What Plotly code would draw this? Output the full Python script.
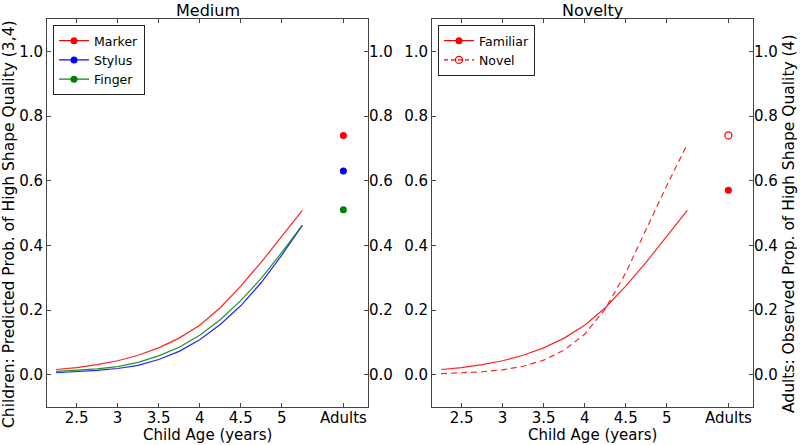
import plotly.graph_objects as go

# ---------------- data ----------------
ages = [2.25, 2.5, 2.75, 3.0, 3.25, 3.5, 3.75, 4.0, 4.25, 4.5, 4.75, 5.0, 5.25]

marker_pred = [0.016, 0.022, 0.031, 0.043, 0.060, 0.083, 0.113, 0.153, 0.207, 0.274, 0.348, 0.428, 0.508]
stylus_pred = [0.006, 0.009, 0.013, 0.019, 0.029, 0.047, 0.072, 0.108, 0.155, 0.213, 0.285, 0.370, 0.462]
finger_pred = [0.010, 0.013, 0.018, 0.025, 0.038, 0.058, 0.085, 0.122, 0.170, 0.229, 0.298, 0.378, 0.462]

familiar_pred = [0.016, 0.022, 0.031, 0.043, 0.060, 0.083, 0.113, 0.153, 0.207, 0.274, 0.348, 0.428, 0.508]
novel_pred = [0.003, 0.005, 0.009, 0.015, 0.026, 0.045, 0.076, 0.125, 0.203, 0.315, 0.450, 0.585, 0.713]

medium_names = ["Marker", "Stylus", "Finger"]
medium_adult = [0.74, 0.63, 0.51]
novelty_names = ["Familiar", "Novel"]
novelty_adult = [0.57, 0.74]

x_tickvals = [2.5, 3.0, 3.5, 4.0, 4.5, 5.0, 5.75]
x_ticktext = ["2.5", "3", "3.5", "4", "4.5", "5", "Adults"]
y_tickvals = [0.0, 0.2, 0.4, 0.6, 0.8, 1.0]
y_ticktext = ["0.0", "0.2", "0.4", "0.6", "0.8", "1.0"]
adults_x = 5.75

# ---------------- style ----------------
RED, BLUE, GREEN = "#ff0000", "#0000ff", "#008000"
FONT = "DejaVu Sans"
SPINE = "#444444"
W, H = 800, 445
ML, MR, MT, MB = 47, 47, 19, 38
PW = W - ML - MR
PH = H - MT - MB
d1 = [0, (368 - ML) / PW]
d2 = [(432 - ML) / PW, 1]
XR = [2.14, 6.05]
YR = [-0.1, 1.1]


def px_x(px):
    return (px - ML) / PW


def px_y(py):
    return 1 - (py - MT) / PH


fig = go.Figure()

medium_series = [marker_pred, stylus_pred, finger_pred]
medium_colors = [RED, BLUE, GREEN]
for name, ys, col, ad in zip(medium_names, medium_series, medium_colors, medium_adult):
    fig.add_trace(go.Scatter(x=ages, y=ys, mode="lines", line=dict(color=col, width=1.2),
                             opacity=0.85, showlegend=False, xaxis="x", yaxis="y", hoverinfo="skip"))
    fig.add_trace(go.Scatter(x=[adults_x], y=[ad], mode="markers",
                             marker=dict(color=col, size=7), showlegend=False,
                             xaxis="x", yaxis="y3"))
    fig.add_trace(go.Scatter(x=[None], y=[None], mode="lines+markers", name=name,
                             line=dict(color=col, width=1.2), marker=dict(color=col, size=7),
                             xaxis="x", yaxis="y", legend="legend"))

# right panel
fig.add_trace(go.Scatter(x=ages, y=familiar_pred, mode="lines", line=dict(color=RED, width=1.2),
                         opacity=0.85, showlegend=False, xaxis="x2", yaxis="y2"))
fig.add_trace(go.Scatter(x=ages, y=novel_pred, mode="lines",
                         line=dict(color=RED, width=1.2, dash="6px,4px"),
                         opacity=0.85, showlegend=False, xaxis="x2", yaxis="y2"))
fig.add_trace(go.Scatter(x=[adults_x], y=[novelty_adult[0]], mode="markers",
                         marker=dict(color=RED, size=7), showlegend=False, xaxis="x2", yaxis="y4"))
fig.add_trace(go.Scatter(x=[adults_x], y=[novelty_adult[1]], mode="markers",
                         marker=dict(color=RED, size=7, symbol="circle-open", line=dict(width=1.3)),
                         showlegend=False, xaxis="x2", yaxis="y4"))
fig.add_trace(go.Scatter(x=[None], y=[None], mode="lines+markers", name=novelty_names[0],
                         line=dict(color=RED, width=1.2), marker=dict(color=RED, size=7),
                         xaxis="x2", yaxis="y2", legend="legend2"))
fig.add_trace(go.Scatter(x=[None], y=[None], mode="lines+markers", name=novelty_names[1],
                         line=dict(color=RED, width=1.2, dash="4px,3px"),
                         marker=dict(color=RED, size=7, symbol="circle-open", line=dict(width=1.3)),
                         xaxis="x2", yaxis="y2", legend="legend2"))

xcommon = dict(range=XR, tickvals=x_tickvals, ticktext=x_ticktext, ticks="inside", ticklen=4,
               tickcolor=SPINE, showline=True, linecolor=SPINE, linewidth=1, mirror="ticks",
               showgrid=False, zeroline=False, tickfont=dict(size=15), automargin=False,
               ticklabelstandoff=-3)
ycommon = dict(range=YR, tickvals=y_tickvals, ticktext=y_ticktext, ticks="inside", ticklen=4,
               tickcolor=SPINE, showline=True, linecolor=SPINE, linewidth=1, mirror="ticks",
               showgrid=False, zeroline=False, tickfont=dict(size=15), automargin=False)
yright = dict(range=YR, tickvals=y_tickvals, ticktext=y_ticktext, ticks="", showline=False,
              showgrid=False, zeroline=False, tickfont=dict(size=15), side="right", automargin=False)

legcommon = dict(bgcolor="white", bordercolor="#222222", borderwidth=1,
                 font=dict(size=12.5), xanchor="left", yanchor="top", tracegroupgap=0)

fig.update_layout(
    width=W, height=H,
    margin=dict(l=ML, r=MR, t=MT, b=MB, autoexpand=False),
    paper_bgcolor="white", plot_bgcolor="white",
    font=dict(family=FONT, color="black", size=15),
    xaxis=dict(domain=d1, anchor="y", **xcommon),
    yaxis=dict(domain=[0, 1], anchor="x", **ycommon),
    xaxis2=dict(domain=d2, anchor="y2", **xcommon),
    yaxis2=dict(domain=[0, 1], anchor="x2", **ycommon),
    yaxis3=dict(overlaying="y", anchor="x", **yright),
    yaxis4=dict(overlaying="y2", anchor="x2", **yright),
    legend=dict(x=px_x(53), y=px_y(25), **legcommon),
    legend2=dict(x=px_x(438), y=px_y(25), **legcommon),
    annotations=[
        dict(text="Medium", x=(d1[0] + d1[1]) / 2, y=px_y(10), xref="paper", yref="paper",
             xanchor="center", yanchor="middle", showarrow=False, font=dict(size=16)),
        dict(text="Novelty", x=(d2[0] + d2[1]) / 2, y=px_y(10), xref="paper", yref="paper",
             xanchor="center", yanchor="middle", showarrow=False, font=dict(size=16)),
        dict(text="Child Age (years)", x=(d1[0] + d1[1]) / 2, y=px_y(435), xref="paper", yref="paper",
             xanchor="center", yanchor="middle", showarrow=False, font=dict(size=15)),
        dict(text="Child Age (years)", x=(d2[0] + d2[1]) / 2, y=px_y(435), xref="paper", yref="paper",
             xanchor="center", yanchor="middle", showarrow=False, font=dict(size=15)),
        dict(text="Children: Predicted Prob. of High Shape Quality (3,4)", textangle=-90,
             x=px_x(9), y=px_y(224), xref="paper", yref="paper", xanchor="center", yanchor="middle",
             showarrow=False, font=dict(size=15.5)),
        dict(text="Adults: Observed Prop. of High Shape Quality (4)", textangle=-90,
             x=px_x(789), y=px_y(224), xref="paper", yref="paper", xanchor="center", yanchor="middle",
             showarrow=False, font=dict(size=15.5)),
    ],
)

fig.write_html("out.html", config={"displayModeBar": False},
               post_script="document.body.style.margin='0';document.body.style.overflow='hidden';")
